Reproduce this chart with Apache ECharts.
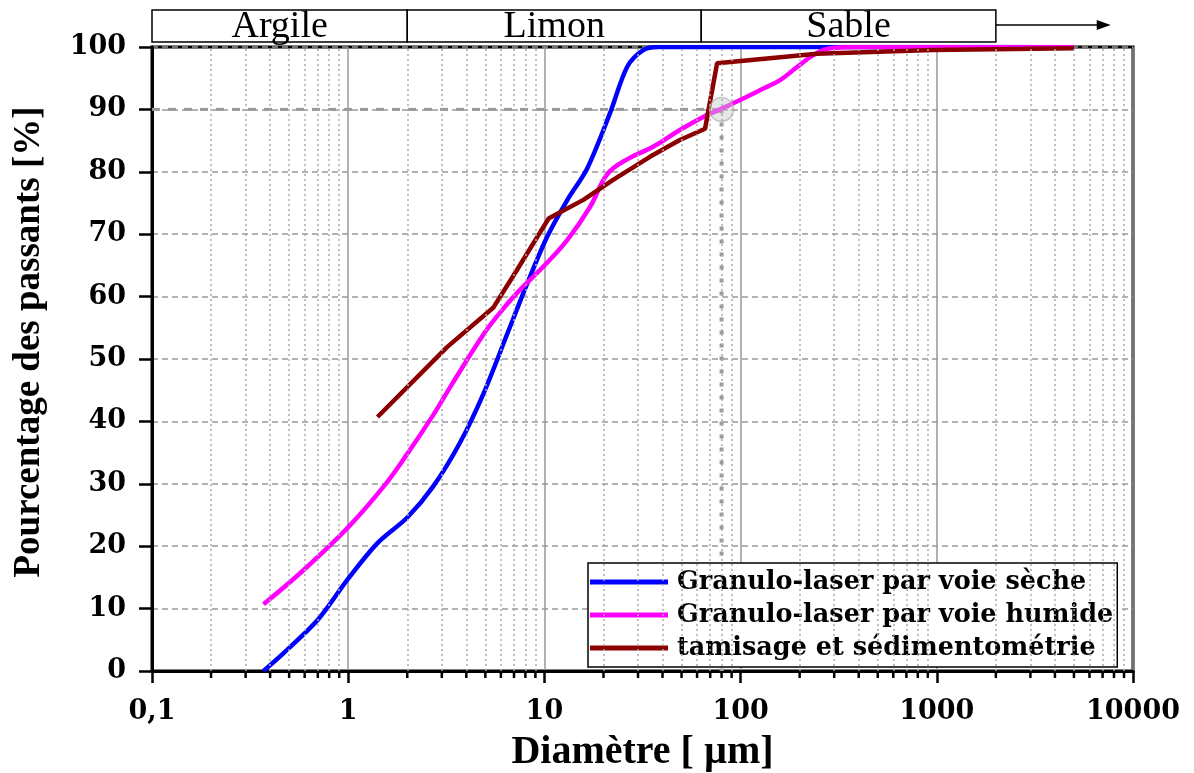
<!DOCTYPE html>
<html>
<head>
<meta charset="utf-8">
<script src="https://cdn.jsdelivr.net/npm/echarts@6/dist/echarts.min.js"></script>
<style>
html,body{margin:0;padding:0;background:#fff;}
#chart{width:1194px;height:773px;}
</style>
</head>
<body>
<div id="chart"></div>
<script>
// ---- data ----
const xTickLabels = ['0,1', '1', '10', '100', '1000', '10000'];
const yTickValues = [0, 10, 20, 30, 40, 50, 60, 70, 80, 90, 100];

const seriesNames = ['Granulo-laser par voie sèche', 'Granulo-laser par voie humide', 'tamisage et sédimentométrie'];

const dryX = [0.37, 0.47, 0.70, 1.0, 1.41, 2.0, 2.7, 3.7, 4.9, 6.5, 8.2, 10.3, 13.1, 16.5, 21.6, 26.4, 31.9, 38, 60, 150, 1000, 3000];
const dryY = [0, 2.9, 8.2, 14.8, 20.5, 24.6, 29.5, 36.5, 44.5, 54.2, 62.2, 69.5, 75.5, 80.5, 89.4, 96.8, 99.5, 100, 100, 100, 100, 100];

const wetX = [0.37, 0.57, 0.99, 1.51, 2.0, 2.71, 3.4, 4.88, 6.0, 7.26, 9.8, 13.1, 17.1, 20.9, 26.4, 35.8, 49, 64.5, 78.7, 99.4, 126, 159, 194, 235, 286, 400, 1000, 5000];
const wetY = [10.7, 15.7, 22.9, 29.5, 34.8, 41.0, 46.1, 53.9, 57.6, 60.6, 64.7, 69.1, 74.4, 79.6, 82.0, 84.0, 86.7, 88.8, 90.0, 91.5, 93.1, 94.7, 96.8, 98.7, 99.8, 100, 100, 100];

const sieveX = [1.41, 3.19, 5.48, 7.26, 10.5, 15.8, 22.4, 34.5, 49, 65.9, 75.9, 245, 957, 5000];
const sieveY = [40.7, 51.9, 58.2, 64.3, 72.5, 75.5, 78.7, 82.4, 85.1, 86.9, 97.4, 98.9, 99.5, 99.8];

// D90 reference point
const d90 = [80, 90];

// texture bands
const bandStart = [0.1, 2, 63];
const bandEnd = [2, 63, 2000];
const bandLabels = ['Argile', 'Limon', 'Sable'];
const arrowEnd = 7700;

// minor grid / tick positions
const minorValues = [0.2,0.3,0.4,0.5,0.6,0.7,0.8,0.9,
  2,3,4,5,6,7,8,9,
  20,30,40,50,60,70,80,90,
  200,300,400,500,600,700,800,900,
  2000,3000,4000,5000,6000,7000,8000,9000];

// ---- build ----
const zip = (xs, ys) => xs.map((x, i) => [x, ys[i]]);
const chart = echarts.init(document.getElementById('chart'));
const tickFont = 'DejaVu Serif';

const option = {
  animation: false,
  backgroundColor: '#fff',
  grid: { left: 152, right: 61, top: 47, bottom: 102, show: true, borderColor: '#000', borderWidth: 3,
    backgroundColor: 'transparent', containLabel: false, outerBoundsMode: 'none' },
  legend: {
    data: seriesNames,
    orient: 'vertical',
    left: 588, top: 563,
    padding: [6, 4, 6, 2],
    itemGap: 7,
    itemWidth: 78, itemHeight: 5,
    icon: 'rect',
    backgroundColor: '#fff',
    borderColor: '#000', borderWidth: 1.5, borderRadius: 0,
    textStyle: { fontFamily: tickFont, fontWeight: 'bold', fontSize: 25.5, color: '#000', padding: [0, 0, 0, 4] }
  },
  xAxis: {
    type: 'log', logBase: 10, min: 0.1, max: 10000,
    name: 'Diamètre [ µm]', nameLocation: 'middle', nameGap: 62,
    nameTextStyle: { fontFamily: 'Liberation Serif', fontWeight: 'bold', fontSize: 40, color: '#000' },
    axisLine: { show: true, lineStyle: { color: '#000', width: 3 } },
    axisTick: { show: true, inside: false, length: 12, lineStyle: { color: '#000', width: 2.5 } },
    axisLabel: {
      margin: 27, color: '#000', fontFamily: tickFont, fontWeight: 'bold', fontSize: 27,
      formatter: (v, i) => xTickLabels[i] !== undefined ? xTickLabels[i] : String(v)
    },
    splitLine: { show: true, lineStyle: { color: '#999', width: 1.5, type: 'solid' } },
    minorTick: { show: false }, minorSplitLine: { show: false }
  },
  yAxis: {
    type: 'value', min: 0, max: 100, interval: 10,
    name: 'Pourcentage des passants [%]', nameLocation: 'middle', nameGap: 104,
    nameTextStyle: { fontFamily: 'Liberation Serif', fontWeight: 'bold', fontSize: 37, color: '#000', padding: [0, 0, 0, 34] },
    axisLine: { show: true, lineStyle: { color: '#000', width: 3 } },
    axisTick: { show: true, inside: false, length: 13, lineStyle: { color: '#000', width: 2.5 } },
    axisLabel: { margin: 26, color: '#000', fontFamily: tickFont, fontWeight: 'bold', fontSize: 27,
      formatter: (v) => yTickValues.indexOf(v) >= 0 ? String(v) : '' },
    splitLine: { show: true, lineStyle: { color: '#999', width: 1.5, type: [6, 4] } }
  },
  series: [
    {
      name: 'minorGrid', type: 'line', data: [], silent: true, z: 1,
      markLine: {
        silent: true, symbol: ['none', 'none'], animation: false,
        label: { show: false },
        lineStyle: { type: [2, 3], color: '#aaa', width: 1.5 },
        data: minorValues.map(v => ({ xAxis: v }))
      }
    },
    {
      name: 'minorTicks', type: 'custom', silent: true, clip: false, z: 5,
      data: minorValues.map(v => [v, 0]),
      encode: { x: 0, y: 1 },
      renderItem: function (params, api) {
        const p = api.coord([api.value(0), 0]);
        return { type: 'line', shape: { x1: p[0], y1: p[1], x2: p[0], y2: p[1] + 7 }, style: { stroke: '#000', lineWidth: 2.5 } };
      }
    },
    {
      name: 'bands', type: 'custom', silent: true, clip: false, z: 5,
      data: bandStart.map((s, i) => [s, bandEnd[i]]),
      encode: { x: [0, 1] },
      renderItem: function (params, api) {
        const i = params.dataIndex;
        const p0 = api.coord([api.value(0), 100]);
        const p1 = api.coord([api.value(1), 100]);
        const top = p0[1] - 37, h = 32;
        const children = [
          { type: 'rect', shape: { x: p0[0], y: top, width: p1[0] - p0[0], height: h }, style: { fill: '#fff', stroke: '#000', lineWidth: 1.5 } },
          { type: 'text', style: { text: bandLabels[i], x: (p0[0] + p1[0]) / 2, y: top + h / 2 + 1, align: 'center', verticalAlign: 'middle', font: '38px "Liberation Serif"', fill: '#000' } }
        ];
        if (i === bandStart.length - 1) {
          const pa = api.coord([arrowEnd, 100]);
          const ay = top + h / 2 - 1;
          children.push({ type: 'line', shape: { x1: p1[0], y1: ay, x2: pa[0] - 10, y2: ay }, style: { stroke: '#000', lineWidth: 1.5 } });
          children.push({ type: 'polygon', shape: { points: [[pa[0], ay], [pa[0] - 14, ay - 5], [pa[0] - 14, ay + 5]] }, style: { fill: '#000' } });
        }
        return { type: 'group', children: children };
      }
    },
    {
      name: 'd90h', type: 'line', silent: true, z: 2, symbol: 'none',
      data: [[0.1, d90[1]], d90],
      lineStyle: { color: '#999', width: 3, type: [8, 8] }
    },
    {
      name: 'd90v', type: 'line', silent: true, z: 2, symbol: 'none',
      data: [d90, [d90[0], 0]],
      lineStyle: { color: '#999', width: 4, type: [4, 9] }
    },
    {
      name: seriesNames[0], type: 'line', data: zip(dryX, dryY), showSymbol: false, symbol: 'none',
      smooth: 0.3, z: 3,
      itemStyle: { color: '#0000ff' }, lineStyle: { color: '#0000ff', width: 4.5 }
    },
    {
      name: seriesNames[1], type: 'line', data: zip(wetX, wetY), showSymbol: false, symbol: 'none',
      smooth: 0.4, z: 3,
      itemStyle: { color: '#ff00ff' }, lineStyle: { color: '#ff00ff', width: 4.5 }
    },
    {
      name: seriesNames[2], type: 'line', data: zip(sieveX, sieveY), showSymbol: false, symbol: 'none',
      smooth: false, z: 3,
      itemStyle: { color: '#8b0000' }, lineStyle: { color: '#8b0000', width: 4.5 }
    },
    {
      name: 'd90pt', type: 'scatter', silent: true, z: 4,
      data: [d90], symbolSize: 24,
      itemStyle: { color: 'rgba(200,200,200,0.55)', borderColor: 'rgba(170,170,170,0.8)', borderWidth: 1.5 }
    }
  ]
};
chart.setOption(option);
</script>
</body>
</html>
